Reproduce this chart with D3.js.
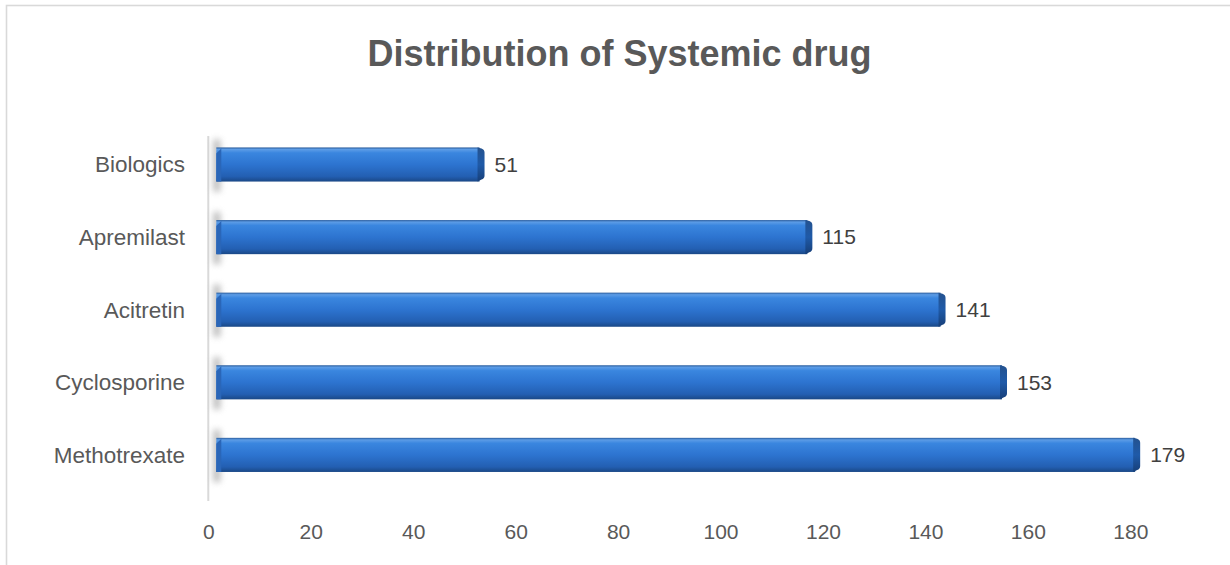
<!DOCTYPE html>
<html><head><meta charset="utf-8">
<script src="https://cdn.jsdelivr.net/npm/d3@7"></script>
<style>body{margin:0;background:#fff;}svg{display:block;}</style>
</head><body>
<svg id="c" width="1230" height="565"></svg>
<script>
const categories = ["Biologics", "Apremilast", "Acitretin", "Cyclosporine", "Methotrexate"];
const values = [51, 115, 141, 153, 179];
const tickValues = [0, 20, 40, 60, 80, 100, 120, 140, 160, 180];
const title = "Distribution of Systemic drug";

const svg = d3.select("#c");
const defs = svg.append("defs");
const g1 = defs.append("linearGradient").attr("id","barg").attr("x1",0).attr("y1",0).attr("x2",0).attr("y2",1);
[[0,"#2a5c9c"],[0.06,"#5c9ce6"],[0.16,"#3a86df"],[0.5,"#2d74d0"],[0.85,"#235fb2"],[1,"#1a4886"]]
  .forEach(([o,c])=>g1.append("stop").attr("offset",o).attr("stop-color",c));
const g2 = defs.append("linearGradient").attr("id","capg").attr("x1",0).attr("y1",0).attr("x2",0).attr("y2",1);
[[0,"#24528f"],[0.5,"#1f5aa8"],[1,"#173f78"]]
  .forEach(([o,c])=>g2.append("stop").attr("offset",o).attr("stop-color",c));
defs.append("filter").attr("id","blur").attr("x","-3").attr("y","-1").attr("width","7").attr("height","3")
  .append("feGaussianBlur").attr("stdDeviation",3);

// frame
svg.append("rect").attr("x",6.5).attr("y",5.5).attr("width",1400).attr("height",800)
  .attr("fill","none").attr("stroke","#d9d9d9").attr("stroke-width",1.6);

const x = d3.scaleLinear().domain([0,180]).range([208.3,1130.3]);
const y = d3.scaleBand().domain(categories).range([128.2,491.2]).paddingInner(0.53).paddingOuter(0.265);

// title
svg.append("text").attr("x",619.5).attr("y",66).attr("text-anchor","middle")
  .attr("font-family","'Liberation Sans', Arial, sans-serif").attr("font-weight","bold")
  .attr("font-size",36).attr("fill","#595959").text(title);

// vertical axis line
svg.append("line").attr("x1",x(0)).attr("x2",x(0)).attr("y1",136).attr("y2",501)
  .attr("stroke","#d9d9d9").attr("stroke-width",2);

// x axis tick labels
const xAxis = d3.axisBottom(x).tickValues(tickValues).tickSize(0).tickPadding(0);
const ax = svg.append("g").attr("transform","translate(0,524)").call(xAxis);
ax.select(".domain").remove();
ax.selectAll("text").attr("font-family","'Liberation Sans', Arial, sans-serif")
  .attr("font-size",21).attr("fill","#595959").attr("dy","0.71em");

// y axis labels
const yAxis = d3.axisLeft(y).tickSize(0).tickPadding(0);
const ay = svg.append("g").attr("transform","translate(185,0)").call(yAxis);
ay.select(".domain").remove();
ay.selectAll("text").attr("font-family","'Liberation Sans', Arial, sans-serif")
  .attr("font-size",22.5).attr("fill","#595959").attr("dy","0.35em");

const data = categories.map((c,i)=>({c, v: values[i]}));
const bh = y.bandwidth();

// floor shadows
svg.append("g").selectAll("rect").data(data).join("rect")
  .attr("x",x(0)+5).attr("width",7)
  .attr("y",d=>y(d.c)-8).attr("height",bh+18)
  .attr("fill","#909090").attr("opacity",0.6).attr("filter","url(#blur)");

// bars
const bars = svg.append("g");
bars.selectAll("rect.body").data(data).join("rect").attr("class","body")
  .attr("x",x(0)+8).attr("y",d=>y(d.c))
  .attr("width",d=>x(d.v)+15-(x(0)+8)-5).attr("height",bh)
  .attr("fill","url(#barg)");
// end caps (bevel)
bars.selectAll("path.cap").data(data).join("path").attr("class","cap")
  .attr("d",d=>{
    const xe = x(d.v)+15, xs = xe-7, t = y(d.c), b = t+bh;
    return `M${xs},${t} L${xe-3},${t+1} Q${xe},${t+2} ${xe},${t+5} L${xe},${b-6} Q${xe},${b-3} ${xe-3},${b-2} L${xs},${b} Z`;
  })
  .attr("fill","url(#capg)");
// left bevel
bars.selectAll("path.lcap").data(data).join("path").attr("class","lcap")
  .attr("d",d=>{
    const xs = x(0)+8, t = y(d.c);
    return `M${xs},${t+6} L${xs+5},${t+1} L${xs+5},${t+bh} L${xs},${t+bh} Z`;
  })
  .attr("fill","#2a66b8");

// value labels
svg.append("g").selectAll("text").data(data).join("text")
  .attr("x",d=>x(d.v)+25).attr("y",d=>y(d.c)+bh/2).attr("dy","0.35em")
  .attr("font-family","'Liberation Sans', Arial, sans-serif").attr("font-size",21)
  .attr("fill","#404040").text(d=>d.v);
</script>
</body></html>
